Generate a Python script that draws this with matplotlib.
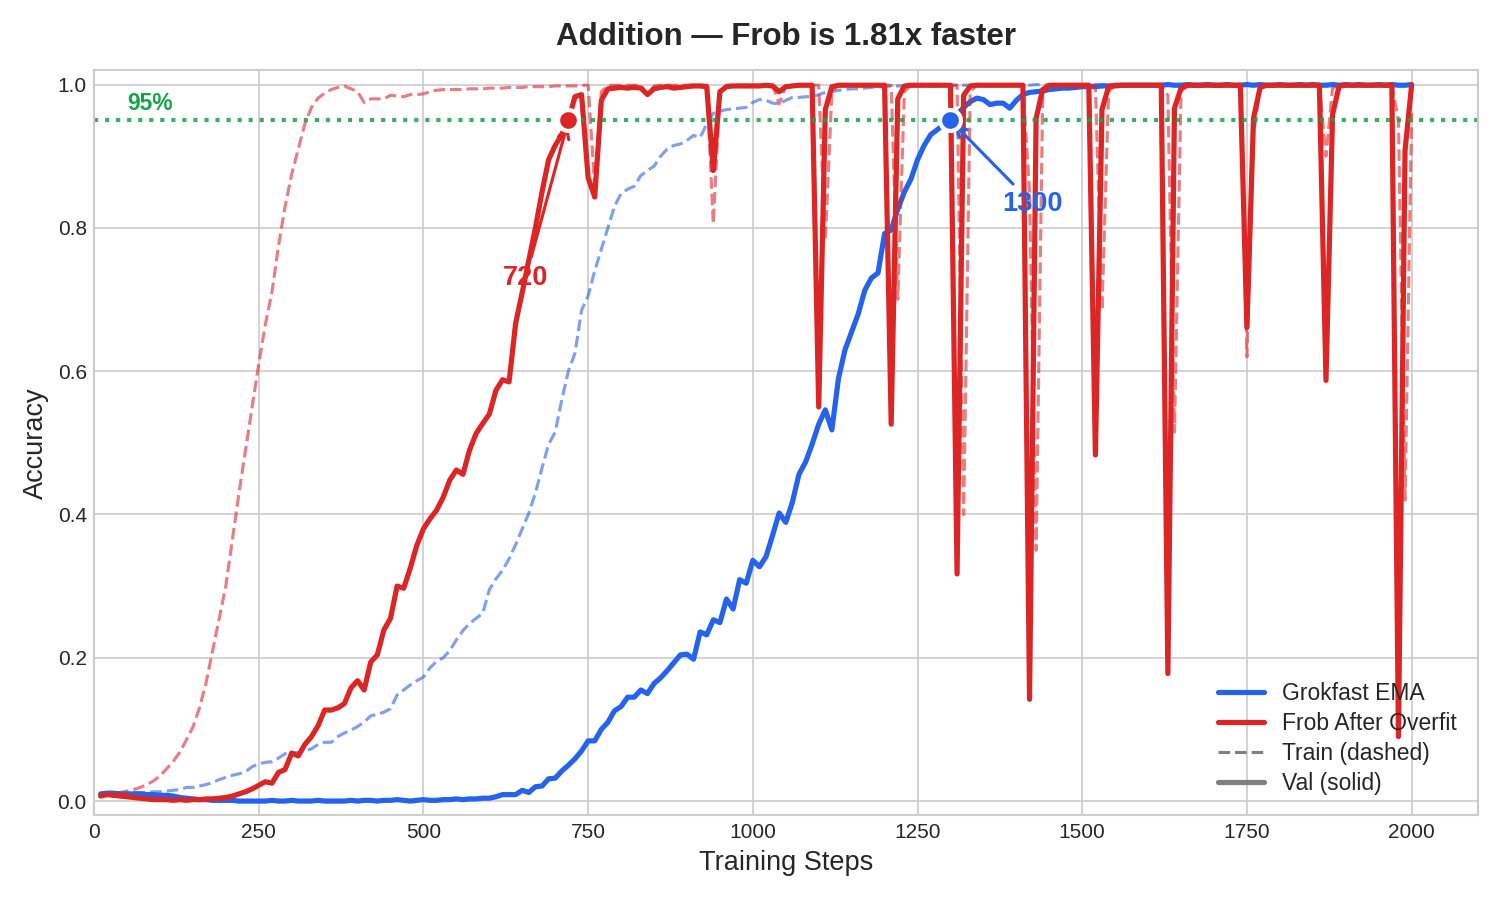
import matplotlib
matplotlib.use("Agg")
import matplotlib.pyplot as plt
from matplotlib.lines import Line2D

plt.style.use("seaborn-v0_8-whitegrid")
plt.rcParams['font.family'] = ['Liberation Sans', 'DejaVu Sans']

steps = list(range(10, 2001, 10))

grok_val = [
    0.010, 0.011, 0.011, 0.010, 0.010, 0.010, 0.010, 0.009, 0.009, 0.008,
    0.008, 0.007, 0.005, 0.004, 0.003, 0.002, 0.002, 0.001, 0.001, 0.001,
    0.001, 0.000, 0.000, 0.000, 0.000, 0.000, 0.001, 0.000, 0.000, 0.001,
    0.000, 0.000, 0.000, 0.001, 0.000, 0.000, 0.000, 0.000, 0.001, 0.000,
    0.001, 0.001, 0.000, 0.001, 0.001, 0.002, 0.001, 0.000, 0.001, 0.002,
    0.001, 0.001, 0.002, 0.002, 0.003, 0.002, 0.003, 0.003, 0.004, 0.004,
    0.006, 0.009, 0.009, 0.009, 0.015, 0.012, 0.020, 0.021, 0.031, 0.032,
    0.042, 0.050, 0.059, 0.070, 0.084, 0.084, 0.100, 0.110, 0.126, 0.132,
    0.145, 0.145, 0.155, 0.150, 0.164, 0.172, 0.182, 0.193, 0.204, 0.205,
    0.198, 0.236, 0.232, 0.253, 0.249, 0.282, 0.268, 0.309, 0.304, 0.336,
    0.327, 0.341, 0.371, 0.402, 0.389, 0.417, 0.456, 0.473, 0.498, 0.526,
    0.546, 0.518, 0.590, 0.630, 0.655, 0.680, 0.713, 0.730, 0.737, 0.792,
    0.797, 0.826, 0.850, 0.868, 0.895, 0.915, 0.930, 0.937, 0.944, 0.950,
    0.958, 0.968, 0.976, 0.981, 0.979, 0.972, 0.974, 0.974, 0.967, 0.978,
    0.986, 0.989, 0.990, 0.991, 0.993, 0.994, 0.995, 0.995, 0.996, 0.997,
    0.997, 0.997, 0.998, 0.998, 0.998, 0.999, 0.999, 0.999, 0.999, 0.999,
    0.999, 0.999, 1.000, 0.999, 0.999, 1.000, 0.999, 0.999, 1.000, 0.999,
    0.999, 1.000, 0.999, 0.999, 1.000, 0.999, 1.000, 0.999, 0.999, 1.000,
    0.999, 0.999, 1.000, 0.999, 1.000, 0.999, 0.999, 1.000, 0.999, 1.000,
    0.999, 1.000, 0.999, 0.999, 1.000, 0.999, 1.000, 0.999, 0.999, 1.000,
]

grok_train = [
    0.010, 0.010, 0.011, 0.011, 0.011, 0.012, 0.012, 0.012, 0.013, 0.013,
    0.014, 0.015, 0.016, 0.019, 0.019, 0.021, 0.023, 0.026, 0.030, 0.033,
    0.036, 0.038, 0.041, 0.048, 0.052, 0.054, 0.055, 0.060, 0.066, 0.067,
    0.068, 0.070, 0.073, 0.079, 0.082, 0.082, 0.090, 0.095, 0.099, 0.104,
    0.110, 0.119, 0.121, 0.124, 0.129, 0.148, 0.155, 0.162, 0.168, 0.173,
    0.186, 0.195, 0.200, 0.210, 0.225, 0.238, 0.248, 0.255, 0.262, 0.295,
    0.310, 0.322, 0.338, 0.358, 0.380, 0.402, 0.430, 0.465, 0.498, 0.515,
    0.560, 0.600, 0.625, 0.685, 0.705, 0.740, 0.770, 0.800, 0.830, 0.848,
    0.854, 0.858, 0.873, 0.880, 0.886, 0.900, 0.910, 0.915, 0.917, 0.922,
    0.929, 0.926, 0.945, 0.960, 0.963, 0.965, 0.966, 0.967, 0.968, 0.975,
    0.979, 0.978, 0.974, 0.973, 0.978, 0.982, 0.982, 0.983, 0.983, 0.986,
    0.989, 0.990, 0.992, 0.993, 0.994, 0.994, 0.995, 0.996, 0.997, 0.997,
    0.998, 0.998, 0.998, 0.998, 0.998, 0.998, 0.998, 0.998, 0.998, 0.999,
    0.999, 0.999, 0.999, 0.999, 1.000, 0.999, 0.999, 1.000, 0.999, 0.999,
    1.000, 0.999, 1.000, 0.999, 1.000, 1.000, 0.999, 1.000, 1.000, 1.000,
    1.000, 1.000, 1.000, 1.000, 1.000, 1.000, 1.000, 1.000, 1.000, 1.000,
    1.000, 1.000, 1.000, 1.000, 1.000, 1.000, 1.000, 1.000, 1.000, 1.000,
    1.000, 1.000, 1.000, 1.000, 1.000, 1.000, 1.000, 1.000, 1.000, 1.000,
    1.000, 1.000, 1.000, 1.000, 1.000, 1.000, 1.000, 1.000, 1.000, 1.000,
    1.000, 1.000, 1.000, 1.000, 1.000, 1.000, 1.000, 1.000, 1.000, 1.000,
]

frob_val = [
    0.007, 0.009, 0.008, 0.007, 0.006, 0.005, 0.004, 0.003, 0.002, 0.002,
    0.002, 0.001, 0.002, 0.001, 0.002, 0.002, 0.003, 0.003, 0.004, 0.005,
    0.007, 0.010, 0.013, 0.017, 0.022, 0.027, 0.025, 0.040, 0.044, 0.067,
    0.063, 0.079, 0.090, 0.105, 0.127, 0.127, 0.130, 0.136, 0.158, 0.168,
    0.155, 0.194, 0.204, 0.239, 0.255, 0.300, 0.297, 0.325, 0.357, 0.380,
    0.394, 0.406, 0.424, 0.448, 0.462, 0.456, 0.490, 0.513, 0.527, 0.540,
    0.573, 0.588, 0.585, 0.667, 0.710, 0.755, 0.800, 0.850, 0.895, 0.915,
    0.930, 0.950, 0.983, 0.986, 0.870, 0.843, 0.978, 0.994, 0.995, 0.996,
    0.995, 0.996, 0.995, 0.986, 0.994, 0.996, 0.997, 0.995, 0.996, 0.997,
    0.998, 0.998, 0.997, 0.880, 0.990, 0.997, 0.998, 0.998, 0.998, 0.998,
    0.998, 0.999, 0.998, 0.990, 0.997, 0.998, 0.999, 0.999, 0.999, 0.550,
    0.965, 0.997, 0.999, 0.999, 0.999, 0.999, 0.999, 0.999, 0.999, 0.999,
    0.526, 0.980, 0.998, 0.999, 0.999, 0.999, 0.999, 0.999, 0.999, 0.999,
    0.317, 0.985, 0.998, 0.999, 0.999, 0.999, 0.999, 0.999, 0.999, 0.999,
    0.999, 0.142, 0.953, 0.993, 0.999, 0.999, 0.999, 0.999, 0.999, 0.999,
    0.999, 0.483, 0.965, 0.997, 0.999, 0.999, 0.999, 0.999, 0.999, 0.999,
    0.999, 0.999, 0.178, 0.967, 0.995, 0.999, 0.999, 0.999, 0.999, 0.999,
    0.999, 0.999, 0.999, 0.999, 0.661, 0.953, 0.996, 0.999, 0.999, 0.999,
    0.999, 0.999, 0.999, 0.999, 0.999, 0.999, 0.587, 0.958, 0.998, 0.999,
    0.999, 0.999, 0.999, 0.999, 0.999, 0.999, 0.999, 0.090, 0.908, 0.999,
]

frob_train = [
    0.010, 0.010, 0.011, 0.012, 0.014, 0.016, 0.019, 0.023, 0.028, 0.035,
    0.045, 0.055, 0.068, 0.085, 0.103, 0.130, 0.165, 0.210, 0.255, 0.300,
    0.365, 0.430, 0.490, 0.550, 0.610, 0.665, 0.710, 0.775, 0.830, 0.875,
    0.910, 0.945, 0.968, 0.981, 0.988, 0.993, 0.996, 0.998, 0.994, 0.990,
    0.975, 0.980, 0.980, 0.980, 0.985, 0.984, 0.983, 0.986, 0.986, 0.987,
    0.990, 0.992, 0.993, 0.993, 0.993, 0.993, 0.994, 0.994, 0.994, 0.995,
    0.995, 0.995, 0.996, 0.996, 0.996, 0.997, 0.997, 0.997, 0.997, 0.998,
    0.998, 0.998, 0.998, 0.999, 0.999, 0.856, 0.990, 0.999, 0.999, 0.999,
    0.999, 0.999, 0.999, 0.986, 0.998, 0.999, 0.999, 0.999, 0.999, 0.999,
    0.999, 0.999, 0.999, 0.806, 0.990, 0.999, 0.999, 0.999, 0.999, 0.999,
    0.999, 0.999, 0.999, 0.973, 0.998, 0.999, 0.999, 0.999, 0.999, 0.999,
    0.782, 0.990, 0.999, 0.999, 0.999, 0.999, 0.999, 0.999, 0.999, 0.999,
    0.999, 0.700, 0.990, 0.999, 0.999, 0.999, 0.999, 0.999, 0.999, 0.999,
    0.999, 0.400, 0.990, 0.999, 0.999, 0.999, 0.999, 0.999, 0.999, 0.999,
    0.999, 0.850, 0.350, 0.985, 0.999, 0.999, 0.999, 0.999, 0.999, 0.999,
    0.999, 0.999, 0.685, 0.990, 0.999, 0.999, 0.999, 0.999, 0.999, 0.999,
    0.999, 0.999, 0.985, 0.515, 0.990, 0.999, 0.999, 0.999, 0.999, 0.999,
    0.999, 0.999, 0.999, 0.999, 0.620, 0.930, 0.995, 0.999, 0.999, 0.999,
    0.999, 0.999, 0.999, 0.999, 0.999, 0.999, 0.900, 0.995, 0.999, 0.999,
    0.999, 0.999, 0.999, 0.999, 0.999, 0.999, 0.999, 0.950, 0.420, 0.960,
]

threshold = 0.95
frob_hit = 720
grok_hit = 1300
title = "Addition \u2014 Frob is 1.81x faster"

BLUE = "#2563eb"
RED = "#dc2626"
GREEN = "#16a34a"

fig, ax = plt.subplots(figsize=(10, 6), dpi=150)
fig.subplots_adjust(left=0.0627, right=0.985, top=0.922, bottom=0.094)

ax.plot(steps, grok_train, color=BLUE, lw=1.5, ls="--", alpha=0.6)
ax.plot(steps, grok_val, color=BLUE, lw=2.5)
ax.plot(steps, frob_train, color=RED, lw=1.5, ls="--", alpha=0.6)
ax.plot(steps, frob_val, color=RED, lw=2.5)

ax.axhline(threshold, color=GREEN, ls=":", lw=2, alpha=0.85)
ax.text(50, threshold + 0.008, "95%", color=GREEN, fontsize=11,
        fontweight="bold", va="bottom", ha="left")

ax.plot([frob_hit], [threshold], "o", color=RED, ms=10, mec="white", mew=2, zorder=5)
ax.plot([grok_hit], [threshold], "o", color=BLUE, ms=10, mec="white", mew=2, zorder=5)

ax.annotate(str(frob_hit), xy=(frob_hit, threshold), xytext=(655, 0.73),
            color=RED, fontsize=13, fontweight="bold", ha="center", va="center",
            arrowprops=dict(arrowstyle="->", color=RED, lw=1.5))
ax.annotate(str(grok_hit), xy=(grok_hit, threshold), xytext=(1425, 0.833),
            color=BLUE, fontsize=13, fontweight="bold", ha="center", va="center",
            arrowprops=dict(arrowstyle="->", color=BLUE, lw=1.5))

ax.set_xlim(0, 2100)
ax.set_ylim(-0.02, 1.02)
ax.set_xticks([0, 250, 500, 750, 1000, 1250, 1500, 1750, 2000])
ax.set_yticks([0.0, 0.2, 0.4, 0.6, 0.8, 1.0])
ax.tick_params(labelsize=10)
ax.set_xlabel("Training Steps", fontsize=13)
ax.set_ylabel("Accuracy", fontsize=13)
ax.set_title(title, fontsize=15, fontweight="bold", pad=12)
for s in ax.spines.values():
    s.set_visible(True)
    s.set_color("#cccccc")

handles = [
    Line2D([0], [0], color=BLUE, lw=2.5),
    Line2D([0], [0], color=RED, lw=2.5),
    Line2D([0], [0], color="gray", lw=1.5, ls="--"),
    Line2D([0], [0], color="gray", lw=2.5),
]
labels = ["Grokfast EMA", "Frob After Overfit", "Train (dashed)", "Val (solid)"]
ax.legend(handles, labels, loc="lower right", fontsize=11, frameon=False,
          labelspacing=0.3)

fig.savefig("out.png", dpi=150)
